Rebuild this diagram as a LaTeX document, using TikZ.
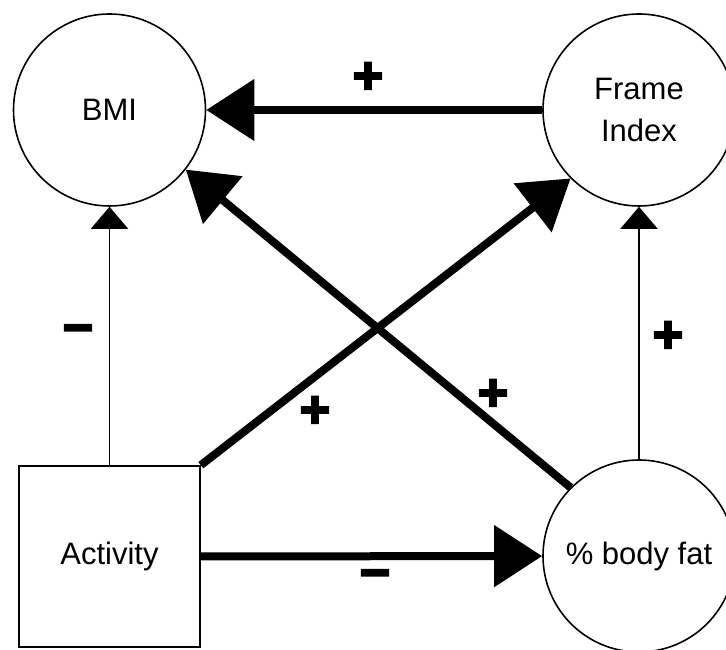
\documentclass[tikz,border=0pt]{standalone}
\usepackage{fontspec}
\setmainfont{Liberation Sans}
\newfontfamily\signfont[FakeBold=4]{Liberation Sans}
\usetikzlibrary{arrows.meta,positioning,calc}

\begin{document}
\begin{tikzpicture}
[x=1pt,y=1pt,
var/.style={shape=circle,draw=black,line width=1.6pt,minimum size=192pt,inner sep=0pt,
  font=\fontsize{31}{42}\selectfont,align=center},
box/.style={shape=rectangle,draw=black,line width=1.6pt,minimum size=181pt,inner sep=0pt,
  font=\fontsize{31}{42}\selectfont},
strong/.style={line width=8pt,-{Triangle[length=48pt,width=60pt]}},
weak/.style={line width=1.8pt,-{Triangle[length=22pt,width=37pt]}},
sign/.style={font=\signfont\bfseries\fontsize{52}{52}\selectfont,inner sep=0pt}]
\useasboundingbox (0,0) rectangle (726,650);
%%
% variables
%%
\node[var] (bmi) at (109.5,540) {BMI};
\node[var] (frame) at (639,540) {Frame\\Index};
\node[var] (fat) at (639,94) {\% body fat};
\node[box] (act) at (109.5,93.5) {Activity};
%%
% links
%%
\draw[strong] (frame) -- (bmi);
\draw[weak] (act) -- (bmi);
\draw[strong] (act.north east) -- (frame.225);
\draw[strong] (fat.135) -- (bmi.-38);
\draw[strong] (act) -- (fat);
\draw[weak] (fat) -- (frame);
%%
% signs
%%
\node[sign] (s1) at (368,572) {+};
\node[sign] (s2) at (78,315) {\textminus};
\node[sign] (s3) at (668,313) {+};
\node[sign] (s4) at (315,238) {+};
\node[sign] (s5) at (493,255) {+};
\node[sign] (s6) at (375,70) {\textminus};
\end{tikzpicture}
\end{document}
